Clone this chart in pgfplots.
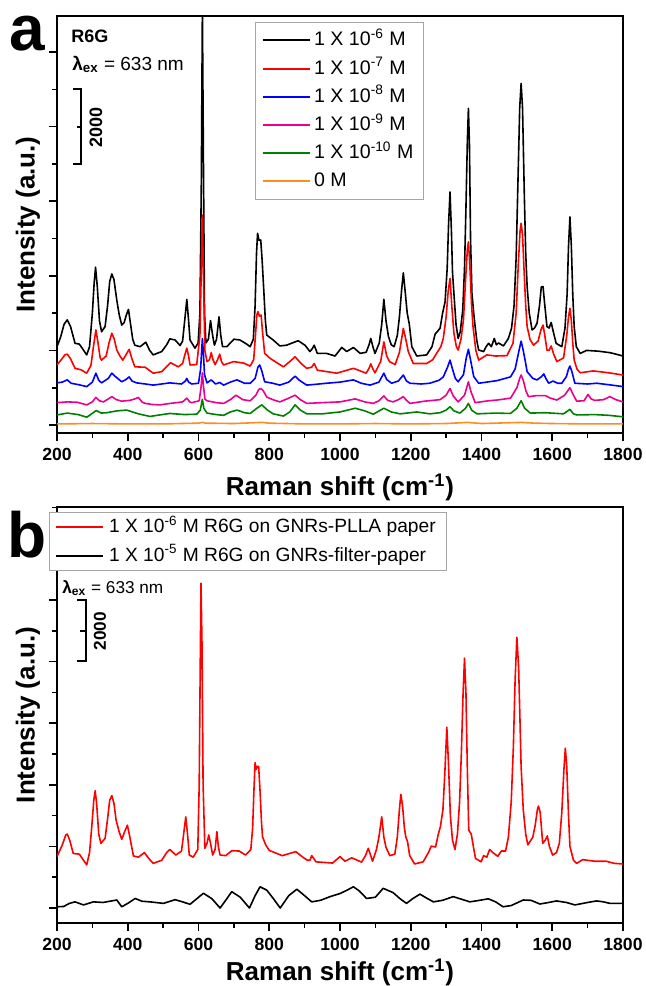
\documentclass[border=0pt]{standalone}
\usepackage{fontspec}
\setmainfont{Liberation Sans}
\usepackage{pgfplots}
\pgfplotsset{compat=1.18}

\definecolor{cgreen}{RGB}{0,128,0}
\definecolor{corange}{RGB}{255,140,30}

\pgfplotsset{
  ramanaxis/.style={
    width=283pt, scale only axis,
    xmin=200, xmax=1800,
    xtick={200,400,...,1800}, minor xtick={300,500,...,1700},
    yticklabels={},
    xticklabel={\fontsize{8.8}{10}\selectfont\bfseries\pgfmathprintnumber[assume math mode=true]{\tick}},
    tick align=outside, tick pos=left,
    major tick length=4pt, minor tick length=2.5pt,
    tick style={line width=0.8pt, black},
    axis line style={line width=0.9pt},
    /pgf/number format/set thousands separator={},
    xlabel={\fontsize{13}{15}\selectfont\bfseries Raman shift (cm\textsuperscript{-1})},
    ylabel={\fontsize{13}{15}\selectfont\bfseries Intensity (a.u.)},
    every axis y label/.style={at={(rel axis cs:-0.0512,0.5)}, rotate=90, anchor=center},
    legend cell align=left,
    legend image code/.code={\draw[#1, line width=1pt] (0pt,0pt) -- (23.5pt,0pt);},
  },
  spec/.style={line width=0.8pt, line join=round},
}

\begin{document}
\begin{tikzpicture}
\path[use as bounding box] (0,0) rectangle (322.5pt,-493pt);

% ---- panel a ----
\begin{axis}[ramanaxis, at={(28.5pt,-8pt)}, anchor=north west, height=208.5pt,
  ymin=-0.214, ymax=10.965, ytick={0,2,...,10}, minor ytick={1,3,...,11},
  every axis x label/.style={at={(rel axis cs:0.5,-0.1487)}, anchor=base},
  legend style={at={(0.35,0.986)}, anchor=north west, draw=gray!70,
    font=\fontsize{9.8}{11}\selectfont, inner xsep=3pt, inner ysep=2pt,
    nodes={text height=8pt, text depth=2.5pt, inner sep=1.8pt}, row sep=0pt}]
\addplot[spec, draw=black] coordinates {(200,2.10) (210,2.35) (220,2.70) (229,2.82) (238,2.65) (251,2.19) (263,2.17) (272,2.05) (284,1.88) (292,2.10) (300,3.00) (305,3.80) (309,4.23) (314,3.70) (320,2.80) (326,2.50) (336,2.64) (343,3.20) (349,3.85) (355,4.05) (361,3.90) (369,3.35) (376,2.95) (383,2.68) (390,2.75) (396,2.95) (402,3.10) (408,2.70) (414,2.30) (420,2.14) (435,2.10) (451,2.22) (462,2.00) (472,1.88) (496,1.97) (510,2.15) (519,2.31) (534,2.28) (548,2.13) (555,2.25) (561,2.80) (567,3.37) (572,2.80) (576,2.28) (590,2.06) (599,2.20) (604,3.00) (608,6.50) (611,11.2) (614,7.0) (617,3.00) (621,2.20) (628,2.30) (634,2.80) (640,2.40) (645,2.14) (651,2.30) (658,2.90) (663,2.40) (668,2.10) (680,2.10) (690,2.20) (700,2.30) (717,2.28) (736,2.17) (746,2.10) (755,2.30) (760,3.20) (764,4.60) (767,5.14) (771,4.95) (776,4.96) (780,4.40) (785,3.53) (789,2.80) (793,2.41) (811,2.28) (830,2.12) (849,2.14) (865,2.20) (882,2.26) (901,2.14) (915,1.97) (922,2.05) (927,2.14) (936,1.92) (962,1.92) (986,1.85) (1005,2.08) (1019,1.97) (1038,2.08) (1057,1.92) (1074,1.95) (1082,2.15) (1087,2.32) (1093,2.10) (1099,1.92) (1111,2.20) (1118,2.70) (1124,3.37) (1130,2.80) (1137,2.37) (1145,2.15) (1153,2.10) (1162,2.40) (1168,2.90) (1174,3.60) (1179,4.08) (1184,3.60) (1190,3.00) (1196,2.70) (1203,2.10) (1217,1.85) (1245,1.88) (1260,2.10) (1269,2.44) (1275,2.50) (1283,2.60) (1290,3.00) (1297,3.30) (1303,4.20) (1307,5.40) (1311,6.25) (1315,5.20) (1318,4.10) (1322,3.53) (1328,2.70) (1334,2.32) (1340,2.50) (1347,3.08) (1352,4.20) (1356,5.80) (1360,7.60) (1363,8.49) (1366,7.50) (1369,5.00) (1373,3.53) (1378,3.00) (1382,2.64) (1387,2.25) (1392,2.01) (1406,1.97) (1413,2.10) (1420,2.19) (1428,2.10) (1436,2.32) (1442,2.15) (1448,2.20) (1462,2.12) (1476,2.32) (1485,2.60) (1492,3.20) (1498,4.50) (1503,6.50) (1508,8.50) (1512,9.16) (1516,8.50) (1521,6.20) (1525,4.60) (1529,3.71) (1535,3.00) (1543,2.55) (1550,2.60) (1557,2.73) (1564,3.20) (1569,3.70) (1574,3.71) (1578,3.30) (1585,2.64) (1591,2.60) (1597,2.75) (1603,2.50) (1611,2.19) (1627,2.10) (1636,2.60) (1642,3.50) (1646,4.80) (1650,5.58) (1654,4.80) (1658,3.50) (1662,2.64) (1668,2.10) (1679,1.92) (1697,2.00) (1730,1.98) (1763,1.94) (1780,1.90) (1800,1.85)};
\addlegendentry{1 X 10\textsuperscript{-6} M}
\addplot[spec, draw=red] coordinates {(200,1.61) (212,1.75) (222,1.88) (229,1.90) (238,1.78) (251,1.52) (268,1.48) (284,1.39) (296,1.60) (303,2.10) (310,2.55) (316,2.20) (322,1.80) (326,1.74) (339,1.85) (347,2.20) (355,2.46) (362,2.30) (369,2.01) (378,1.85) (386,1.74) (396,1.90) (404,2.03) (411,1.80) (420,1.56) (449,1.55) (472,1.39) (496,1.43) (521,1.67) (543,1.56) (555,1.65) (562,1.90) (567,2.06) (572,1.85) (576,1.61) (595,1.62) (604,2.40) (608,4.20) (611,5.63) (614,4.00) (618,2.00) (624,1.70) (631,1.75) (636,1.94) (641,1.75) (647,1.62) (654,1.75) (660,1.90) (665,1.70) (671,1.61) (699,1.70) (728,1.66) (746,1.58) (756,1.75) (761,2.40) (765,2.95) (768,3.04) (772,2.92) (777,2.95) (781,2.50) (787,1.92) (802,1.79) (820,1.68) (840,1.56) (858,1.70) (873,1.83) (890,1.65) (906,1.52) (920,1.55) (927,1.65) (936,1.47) (991,1.39) (1038,1.52) (1074,1.39) (1082,1.52) (1087,1.64) (1093,1.50) (1099,1.40) (1115,1.70) (1124,2.23) (1132,1.85) (1140,1.70) (1156,1.62) (1168,1.95) (1179,2.59) (1186,2.30) (1193,1.97) (1207,1.65) (1245,1.65) (1262,1.75) (1273,1.92) (1285,2.10) (1292,2.32) (1300,2.90) (1306,3.60) (1311,3.93) (1316,3.20) (1322,2.46) (1329,2.10) (1334,2.01) (1342,2.30) (1349,2.82) (1355,3.90) (1360,4.70) (1363,4.91) (1367,4.30) (1372,3.20) (1376,2.64) (1384,2.00) (1392,1.74) (1415,1.88) (1440,1.85) (1472,1.86) (1489,2.19) (1498,3.00) (1504,4.30) (1509,5.20) (1512,5.41) (1516,5.10) (1521,4.00) (1525,3.20) (1529,2.64) (1537,2.30) (1547,2.14) (1560,2.25) (1568,2.55) (1574,2.68) (1579,2.40) (1585,2.01) (1591,2.00) (1597,2.12) (1604,1.90) (1613,1.70) (1632,1.80) (1641,2.40) (1646,2.90) (1650,3.13) (1654,2.80) (1658,2.20) (1662,1.74) (1670,1.50) (1679,1.40) (1716,1.45) (1760,1.40) (1800,1.34)};
\addlegendentry{1 X 10\textsuperscript{-7} M}
\addplot[spec, draw=blue] coordinates {(200,1.13) (215,1.15) (229,1.21) (240,1.12) (262,1.08) (284,1.03) (300,1.15) (310,1.39) (318,1.20) (326,1.13) (345,1.25) (355,1.39) (365,1.30) (383,1.16) (395,1.22) (404,1.29) (412,1.18) (425,1.13) (450,1.10) (472,1.07) (519,1.13) (552,1.10) (563,1.18) (567,1.25) (572,1.15) (581,1.10) (600,1.12) (606,1.50) (609,2.00) (611,2.32) (614,1.90) (617,1.35) (624,1.13) (636,1.21) (648,1.10) (660,1.14) (671,1.07) (690,1.15) (709,1.21) (730,1.12) (746,1.12) (760,1.25) (768,1.55) (773,1.61) (779,1.45) (787,1.16) (810,1.12) (830,1.07) (855,1.15) (873,1.31) (885,1.20) (906,1.07) (930,1.09) (962,1.12) (1000,1.15) (1038,1.21) (1060,1.12) (1085,1.07) (1110,1.15) (1124,1.39) (1132,1.22) (1146,1.12) (1165,1.18) (1179,1.34) (1188,1.18) (1198,1.12) (1230,1.10) (1254,1.12) (1280,1.20) (1292,1.29) (1304,1.55) (1311,1.74) (1318,1.50) (1326,1.25) (1334,1.16) (1349,1.35) (1357,1.80) (1363,2.03) (1369,1.75) (1378,1.30) (1392,1.12) (1444,1.19) (1482,1.29) (1495,1.50) (1505,1.95) (1512,2.25) (1518,2.00) (1524,1.70) (1529,1.43) (1545,1.25) (1557,1.21) (1570,1.30) (1576,1.37) (1582,1.25) (1590,1.12) (1602,1.18) (1615,1.12) (1627,1.12) (1640,1.30) (1646,1.50) (1650,1.58) (1655,1.45) (1664,1.12) (1700,1.10) (1726,1.12) (1760,1.08) (1800,1.03)};
\addlegendentry{1 X 10\textsuperscript{-8} M}
\addplot[spec, draw=magenta] coordinates {(200,0.60) (230,0.62) (257,0.61) (284,0.54) (300,0.62) (310,0.74) (320,0.65) (331,0.62) (345,0.70) (355,0.76) (368,0.68) (383,0.64) (406,0.66) (420,0.70) (430,0.74) (440,0.62) (449,0.58) (470,0.55) (491,0.54) (520,0.58) (538,0.60) (555,0.62) (567,0.72) (575,0.62) (581,0.60) (602,0.65) (607,1.00) (611,1.40) (614,1.05) (618,0.70) (624,0.65) (650,0.60) (671,0.58) (690,0.68) (706,0.80) (725,0.68) (746,0.65) (762,0.80) (770,0.95) (776,0.98) (783,0.92) (793,0.75) (810,0.68) (830,0.62) (855,0.72) (873,0.80) (888,0.68) (906,0.58) (950,0.60) (1000,0.62) (1043,0.70) (1070,0.62) (1094,0.58) (1110,0.65) (1124,0.78) (1135,0.66) (1150,0.62) (1165,0.68) (1179,0.76) (1188,0.66) (1198,0.58) (1240,0.64) (1283,0.68) (1300,0.80) (1311,0.98) (1320,0.78) (1334,0.62) (1352,0.80) (1363,1.16) (1370,0.90) (1382,0.60) (1420,0.65) (1444,0.67) (1482,0.72) (1500,1.00) (1508,1.25) (1512,1.34) (1518,1.20) (1526,0.90) (1533,0.76) (1557,0.79) (1580,0.79) (1595,0.72) (1613,0.67) (1635,0.80) (1650,1.00) (1660,0.80) (1669,0.64) (1690,0.65) (1701,0.82) (1710,0.70) (1720,0.66) (1745,0.68) (1763,0.76) (1780,0.68) (1800,0.62)};
\addlegendentry{1 X 10\textsuperscript{-9} M}
\addplot[spec, draw=cgreen] coordinates {(200,0.27) (229,0.32) (260,0.28) (284,0.21) (298,0.30) (311,0.39) (325,0.32) (340,0.33) (370,0.38) (397,0.40) (430,0.30) (463,0.23) (490,0.27) (519,0.31) (560,0.28) (595,0.29) (605,0.40) (611,0.69) (615,0.45) (624,0.32) (650,0.28) (671,0.26) (690,0.35) (709,0.40) (730,0.33) (746,0.31) (765,0.45) (779,0.54) (795,0.40) (811,0.30) (840,0.24) (858,0.35) (873,0.54) (888,0.40) (906,0.30) (950,0.30) (1000,0.35) (1043,0.45) (1070,0.38) (1094,0.29) (1124,0.45) (1145,0.35) (1170,0.30) (1217,0.35) (1254,0.30) (1283,0.33) (1300,0.40) (1311,0.49) (1322,0.38) (1339,0.32) (1355,0.45) (1363,0.58) (1372,0.40) (1387,0.30) (1440,0.32) (1482,0.31) (1500,0.45) (1512,0.65) (1522,0.45) (1538,0.32) (1580,0.33) (1632,0.30) (1650,0.42) (1660,0.30) (1669,0.27) (1720,0.28) (1760,0.26) (1800,0.22)};
\addlegendentry{1 X 10\textsuperscript{-10} M}
\addplot[spec, draw=corange] coordinates {(200,0.03) (300,0.04) (400,0.03) (500,0.03) (600,0.05) (611,0.07) (620,0.05) (700,0.04) (780,0.07) (800,0.05) (900,0.03) (1000,0.03) (1100,0.04) (1200,0.03) (1300,0.04) (1360,0.07) (1400,0.04) (1512,0.07) (1550,0.05) (1600,0.04) (1700,0.03) (1800,0.03)};
\addlegendentry{0 M}
\end{axis}

% ---- panel b ----
\begin{axis}[ramanaxis, at={(28.5pt,-253.5pt)}, anchor=north west, height=208pt,
  ymin=-0.487, ymax=13.02, ytick={0,2,...,12}, minor ytick={1,3,...,13},
  every axis x label/.style={at={(rel axis cs:0.5,-0.137)}, anchor=base},
  legend style={at={(-0.014,0.988)}, anchor=north west, draw=gray!70,
    font=\fontsize{9.6}{11}\selectfont, inner xsep=3pt, inner ysep=0.5pt,
    nodes={text height=7.5pt, text depth=2pt, inner sep=2.3pt}, row sep=0pt}]
\addplot[spec, draw=red] coordinates {(200,1.67) (215,2.05) (225,2.38) (229,2.40) (236,2.20) (246,1.77) (263,1.75) (275,1.55) (284,1.40) (292,1.80) (298,2.60) (304,3.50) (308,3.81) (312,3.40) (318,2.40) (324,2.10) (336,2.26) (343,2.90) (349,3.50) (355,3.65) (361,3.40) (367,2.86) (375,2.50) (383,2.23) (392,2.50) (399,2.69) (406,2.30) (416,1.69) (430,1.65) (447,1.80) (460,1.60) (472,1.45) (496,1.55) (510,1.80) (519,1.90) (536,1.72) (552,1.85) (558,2.40) (564,2.96) (569,2.40) (574,1.72) (585,1.65) (598,1.90) (602,4.00) (605,8.00) (607,10.55) (610,8.50) (613,4.00) (618,1.94) (624,2.10) (629,2.37) (634,2.10) (640,1.72) (647,1.90) (652,2.48) (656,2.00) (661,1.72) (677,1.70) (694,1.86) (715,1.85) (733,1.72) (748,1.90) (753,2.60) (757,3.90) (760,4.72) (763,4.50) (766,4.60) (770,4.60) (774,3.80) (778,2.80) (781,2.31) (790,2.05) (800,1.87) (837,1.70) (860,1.78) (875,1.83) (895,1.65) (908,1.55) (915,1.55) (920,1.70) (925,1.62) (932,1.50) (979,1.46) (1000,1.67) (1014,1.52) (1033,1.63) (1061,1.49) (1072,1.70) (1080,1.94) (1087,1.70) (1092,1.52) (1103,1.90) (1110,2.30) (1118,2.96) (1124,2.30) (1130,1.97) (1141,1.70) (1155,1.75) (1162,2.30) (1168,3.20) (1172,3.69) (1177,3.30) (1182,2.60) (1186,2.31) (1191,2.15) (1197,1.70) (1211,1.43) (1235,1.50) (1250,1.80) (1258,2.01) (1270,1.98) (1278,2.40) (1284,2.65) (1291,3.20) (1296,4.30) (1302,5.87) (1307,4.60) (1312,3.00) (1318,2.20) (1325,1.90) (1332,2.40) (1338,3.44) (1343,5.00) (1348,7.00) (1352,8.11) (1356,7.00) (1360,4.50) (1364,2.53) (1371,2.40) (1377,2.00) (1383,1.61) (1399,1.50) (1406,1.70) (1415,1.65) (1423,1.90) (1432,1.80) (1446,1.68) (1456,1.85) (1468,1.85) (1476,2.30) (1484,3.44) (1490,5.20) (1495,7.40) (1500,8.79) (1505,7.80) (1509,6.00) (1512,4.59) (1518,3.20) (1525,2.40) (1531,2.05) (1545,2.30) (1552,2.70) (1558,3.20) (1561,3.31) (1566,3.10) (1573,2.10) (1580,2.20) (1586,2.34) (1592,2.00) (1601,1.72) (1612,1.80) (1620,2.10) (1627,3.10) (1633,4.50) (1637,5.19) (1641,4.60) (1646,3.00) (1650,2.00) (1660,1.55) (1669,1.45) (1686,1.57) (1720,1.52) (1752,1.52) (1775,1.45) (1800,1.43)};
\addlegendentry{1 X 10\textsuperscript{-6} M R6G on GNRs-PLLA paper}
\addplot[spec, draw=black] coordinates {(200,0.04) (219,0.05) (235,0.15) (251,0.20) (275,0.10) (303,0.20) (330,0.18) (369,0.26) (376,0.15) (383,0.04) (400,0.15) (421,0.31) (440,0.22) (463,0.20) (501,0.15) (520,0.22) (534,0.27) (555,0.20) (576,0.12) (595,0.30) (614,0.48) (638,0.30) (661,0.00) (680,0.30) (694,0.53) (718,0.35) (744,0.00) (760,0.40) (774,0.69) (793,0.58) (812,0.30) (831,0.00) (855,0.40) (878,0.61) (900,0.40) (920,0.20) (945,0.25) (972,0.37) (1000,0.47) (1020,0.58) (1038,0.69) (1055,0.55) (1075,0.31) (1100,0.35) (1122,0.64) (1150,0.50) (1170,0.30) (1188,0.15) (1205,0.30) (1226,0.45) (1245,0.32) (1264,0.20) (1290,0.25) (1320,0.37) (1345,0.28) (1367,0.20) (1395,0.25) (1419,0.30) (1440,0.20) (1461,0.04) (1484,0.08) (1518,0.26) (1540,0.25) (1565,0.13) (1590,0.18) (1612,0.23) (1640,0.18) (1664,0.10) (1700,0.18) (1725,0.23) (1745,0.20) (1763,0.15) (1800,0.15)};
\addlegendentry{1 X 10\textsuperscript{-5} M R6G on GNRs-filter-paper}
\end{axis}

% annotations, in pixel units of the reference
\begin{scope}[x=0.5pt, y=-0.5pt]
\node[anchor=base, inner sep=0, font=\fontsize{32}{32}\selectfont\bfseries] at (27,50) {a};
\node[anchor=base west, inner sep=0, font=\fontsize{9}{10}\selectfont\bfseries] at (71,42) {R6G};
\node[anchor=base west, inner sep=0, font=\fontsize{9.5}{11}\selectfont] at (72,70) {\textbf{λ}\textsubscript{\textbf{ex}} = 633 nm};
\draw[line width=0.6pt] (73,89) -- (81,89) -- (81,164) -- (73,164);
\draw[line width=0.6pt] (77,127) -- (81,127);
\node[rotate=90, inner sep=0, font=\fontsize{9}{10}\selectfont\bfseries] at (96,127) {2000};

\node[anchor=base, inner sep=0, font=\fontsize{32}{32}\selectfont\bfseries] at (27,557) {b};
\node[anchor=base west, inner sep=0, font=\fontsize{8.6}{10}\selectfont] at (62,593) {\textbf{λ}\textsubscript{\textbf{ex}} = 633 nm};
\draw[line width=0.6pt] (77,600) -- (86,600) -- (86,661) -- (77,661);
\draw[line width=0.6pt] (80,631) -- (86,631);
\node[rotate=90, inner sep=0, font=\fontsize{8.6}{10}\selectfont\bfseries] at (100,631) {2000};
\end{scope}
\end{tikzpicture}
\end{document}
